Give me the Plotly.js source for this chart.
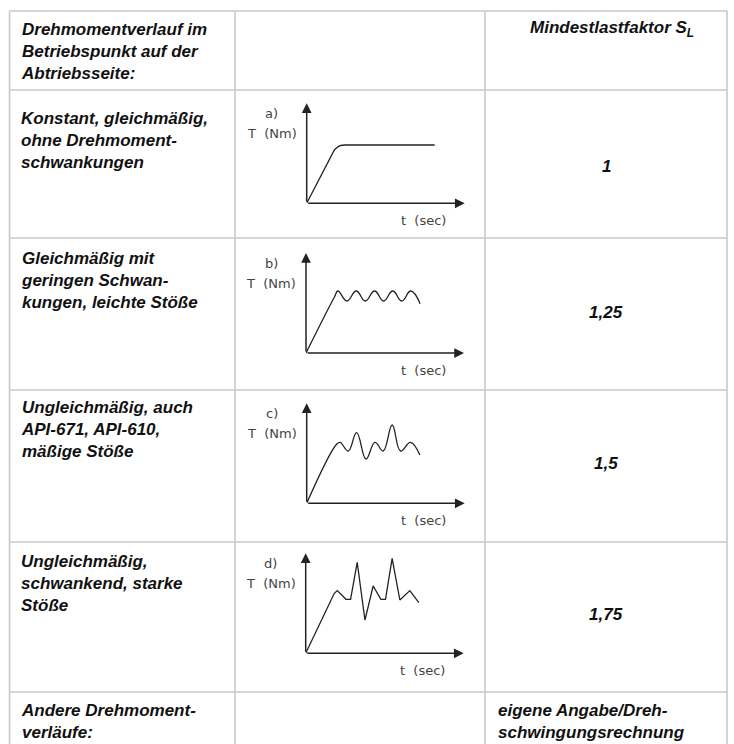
<!DOCTYPE html>
<html>
<head>
<meta charset="utf-8">
<script src="https://cdn.plot.ly/plotly-3.0.1.min.js"></script>
<style>html,body{margin:0;padding:0;background:#fff;}#chart{width:734px;height:744px;}</style>
</head>
<body>
<div id="chart"></div>
<script>
// ---- data ----
const descriptions = [
  'Drehmomentverlauf im<br>Betriebspunkt auf der<br>Abtriebsseite:',
  'Konstant, gleichmäßig,<br>ohne Drehmoment-<br>schwankungen',
  'Gleichmäßig mit<br>geringen Schwan-<br>kungen, leichte Stöße',
  'Ungleichmäßig, auch<br>API-671, API-610,<br>mäßige Stöße',
  'Ungleichmäßig,<br>schwankend, starke<br>Stöße',
  'Andere Drehmoment-<br>verläufe:'
];
const factorHeader = 'Mindestlastfaktor S<sub>L</sub>';
const factors = ['1', '1,25', '1,5', '1,75'];
const otherFactor = 'eigene Angabe/Dreh-<br>schwingungsrechnung';
const chartLabels = ['a)', 'b)', 'c)', 'd)'];
const yAxisLabel = 'T  (Nm)';
const xAxisLabel = 't  (sec)';

const tA = [0, 1.75, 1.95, 2.15, 2.42, 8.1];
const TA = [0, 5.33, 5.62, 5.78, 5.83, 5.83];
const tB = [0, 1.8, 2.02, 2.59, 3.18, 3.75, 4.34, 4.91, 5.49, 6.06, 6.63, 7.22];
const TB = [0, 5.6, 6.2, 5.2, 6.2, 5.2, 6.2, 5.2, 6.2, 5.2, 6.2, 4.93];
const tC = [0, 1.89, 2.11, 2.63, 3.16, 3.75, 4.32, 4.84, 5.41, 5.94, 6.57, 7.16];
const TC = [0, 5.9, 6.1, 5.23, 7.07, 4.43, 6.1, 5.23, 7.83, 5.23, 6.1, 4.83];
const tD = [0, 1.81, 2.0, 2.55, 2.84, 3.26, 3.75, 4.27, 4.76, 5.05, 5.47, 5.96, 6.59, 7.16];
const TD = [0, 6.0, 6.27, 5.4, 5.4, 9.1, 3.33, 6.73, 5.4, 5.4, 9.5, 5.33, 6.27, 5.07];

// ---- layout helpers ----
const W = 734, H = 744;
const px = x => x / W;
const py = y => 1 - y / H;
const hLines = [11, 90, 238, 390, 542, 692];
const vLines = [9.5, 235, 485, 727];
const gridColor = '#c9c9c9';
const textFont = {family: 'Liberation Sans, Arial, sans-serif', size: 17, color: '#111', style: 'italic', weight: 'bold'};
const techFont = {family: 'DejaVu Sans, sans-serif', size: 13, color: '#444'};
const origins = [[306.7, 203.3], [306, 353], [306.7, 503.3], [305.7, 653.3]];
const chartW = 158, chartH = 100;
const uX = chartW / 10, uY = chartH / 10;

const series = [[tA, TA, 'linear', 0], [tB, TB, 'spline', 1.3], [tC, TC, 'spline', 1.2], [tD, TD, 'linear', 0]];

const traces = [];
const layout = {
  width: W, height: H,
  margin: {l: 0, r: 0, t: 0, b: 0},
  paper_bgcolor: '#fff', plot_bgcolor: 'rgba(0,0,0,0)',
  showlegend: false,
  shapes: [], annotations: []
};

// grid
hLines.forEach(y => layout.shapes.push({type: 'line', xref: 'paper', yref: 'paper',
  x0: px(vLines[0]), x1: px(vLines[vLines.length - 1]), y0: py(y), y1: py(y),
  line: {color: gridColor, width: 1.6}}));
vLines.forEach(x => layout.shapes.push({type: 'line', xref: 'paper', yref: 'paper',
  x0: px(x), x1: px(x), y0: py(hLines[0]), y1: 0,
  line: {color: gridColor, width: 1.6}}));

// left texts
const descTops = [18, 107, 247, 396, 550, 699];
descriptions.forEach((t, i) => layout.annotations.push({
  xref: 'paper', yref: 'paper', x: px(19), y: py(descTops[i]), xanchor: 'left', yanchor: 'top',
  align: 'left', showarrow: false, text: t, font: textFont}));

// right column
layout.annotations.push({xref: 'paper', yref: 'paper', x: px(612), y: py(29), xanchor: 'center', yanchor: 'middle',
  showarrow: false, text: factorHeader, font: textFont});
const factorY = [166, 313, 463, 614];
factors.forEach((f, i) => layout.annotations.push({xref: 'paper', yref: 'paper', x: px(606), y: py(factorY[i]),
  xanchor: 'center', yanchor: 'middle', showarrow: false, text: f, font: textFont}));
layout.annotations.push({xref: 'paper', yref: 'paper', x: px(496), y: py(699), xanchor: 'left', yanchor: 'top',
  align: 'left', showarrow: false, text: otherFactor, font: textFont});

// mini charts
series.forEach((s, i) => {
  const n = i === 0 ? '' : String(i + 1);
  const [ox, oy] = origins[i];
  layout['xaxis' + n] = {domain: [px(ox), px(ox + chartW)], range: [0, 10], visible: false, fixedrange: true, anchor: 'y' + n};
  layout['yaxis' + n] = {domain: [py(oy), py(oy - chartH)], range: [0, 10], visible: false, fixedrange: true, anchor: 'x' + n};
  const xr = 'x' + n, yr = 'y' + n;
  traces.push({x: s[0], y: s[1], xaxis: xr, yaxis: yr, type: 'scatter', mode: 'lines',
    line: {color: '#222', width: 1.3, shape: s[2], smoothing: s[3] || 1}, hoverinfo: 'skip', cliponaxis: false});
  // axis arrows
  [[10, 0], [0, 10]].forEach(([x, y]) => layout.annotations.push({
    xref: xr, yref: yr, axref: xr, ayref: yr, x: x, y: y, ax: 0, ay: 0, text: '', showarrow: true,
    arrowhead: 2, arrowsize: 1.3, arrowwidth: 1.5, arrowcolor: '#222', standoff: 0, startstandoff: 0}));
  // labels (paper coords around the chart origin)
  const lab = (t, T, txt) => layout.annotations.push({xref: 'paper', yref: 'paper',
    x: px(ox + t * uX), y: py(oy - T * uY), text: txt, showarrow: false,
    xanchor: 'center', yanchor: 'middle', font: techFont});
  lab(-2.2, 9.0, chartLabels[i]);
  lab(-2.2, 7.0, yAxisLabel);
  lab(7.42, -1.75, xAxisLabel);
});

Plotly.newPlot('chart', traces, layout, {staticPlot: true, displayModeBar: false});
</script>
</body>
</html>
